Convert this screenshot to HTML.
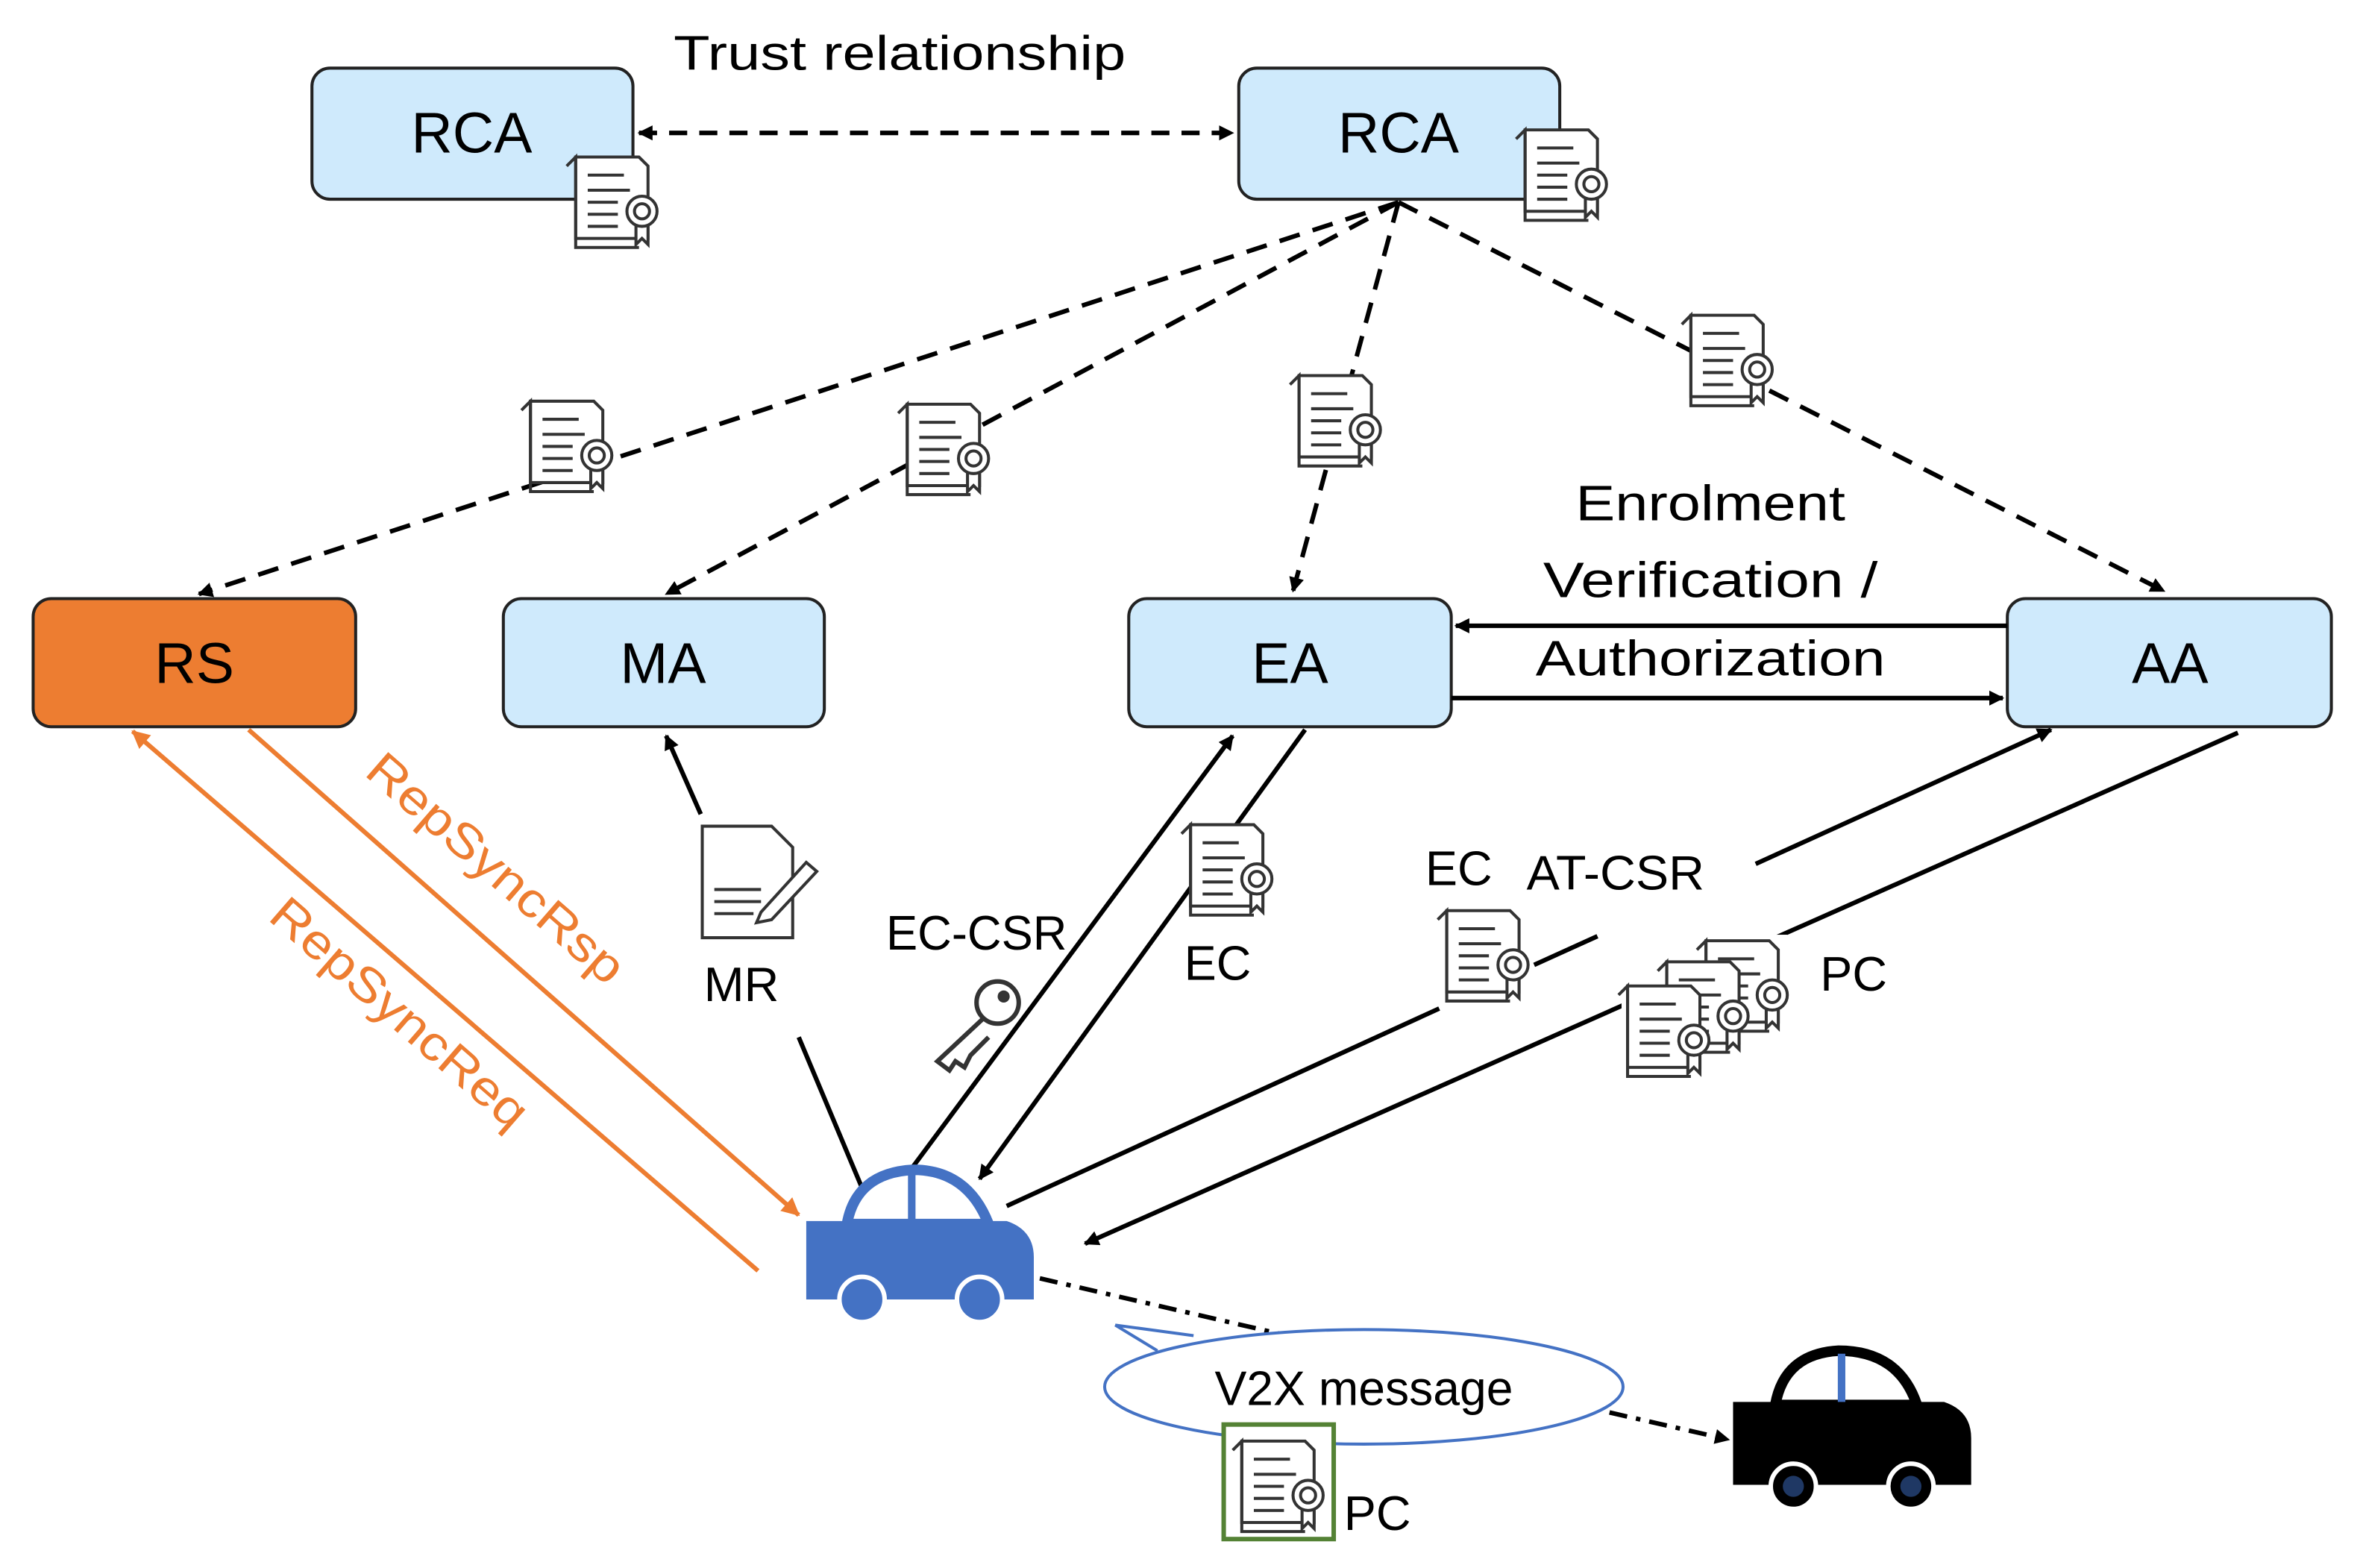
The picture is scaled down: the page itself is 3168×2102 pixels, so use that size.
<!DOCTYPE html>
<html><head><meta charset="utf-8"><style>
html,body{margin:0;padding:0;background:#fff;}
svg{display:block;}
text{font-family:"Liberation Sans","DejaVu Sans",sans-serif;}
</style></head><body>
<svg width="3168" height="2102" viewBox="0 0 1568 1040" xmlns="http://www.w3.org/2000/svg">
<defs>
<marker id="ah" markerWidth="10" markerHeight="10" refX="9" refY="5" orient="auto" markerUnits="userSpaceOnUse"><path d="M0,0 L10,5 L0,10 z" fill="#000"/></marker>
<marker id="ahs" markerWidth="10" markerHeight="10" refX="1" refY="5" orient="auto" markerUnits="userSpaceOnUse"><path d="M10,0 L0,5 L10,10 z" fill="#000"/></marker>
<marker id="ao" markerWidth="12" markerHeight="12" refX="11" refY="6" orient="auto" markerUnits="userSpaceOnUse"><path d="M0,0 L12,6 L0,12 z" fill="#ed7d31"/></marker>
<g id="cert">
<path d="M2,4 L44,4 L50,10 L50,58 L2,58 Z" fill="#fff" stroke="#333" stroke-width="2"/>
<path d="M-4,10 L2,4 L2,64 L44,64" fill="none" stroke="#333" stroke-width="2"/>
<line x1="10" y1="16" x2="34" y2="16" stroke="#333" stroke-width="2"/>
<line x1="10" y1="26" x2="38" y2="26" stroke="#333" stroke-width="2"/>
<line x1="10" y1="34" x2="30" y2="34" stroke="#333" stroke-width="2"/>
<line x1="10" y1="42" x2="30" y2="42" stroke="#333" stroke-width="2"/>
<line x1="10" y1="50" x2="30" y2="50" stroke="#333" stroke-width="2"/>
<path d="M42,46 L42,62 L46,58 L50,62 L50,46" fill="#fff" stroke="#333" stroke-width="2"/>
<circle cx="46" cy="40" r="10" fill="#fff" stroke="#333" stroke-width="2"/>
<circle cx="46" cy="40" r="5" fill="#fff" stroke="#333" stroke-width="2"/>
</g>
</defs>

<rect x="207" y="45" width="213" height="87" rx="12" fill="#cfeafc" stroke="#222" stroke-width="2"/>
<text x="313" y="101" font-size="38" text-anchor="middle">RCA</text>
<rect x="822" y="45" width="213" height="87" rx="12" fill="#cfeafc" stroke="#222" stroke-width="2"/>
<text x="928" y="101" font-size="38" text-anchor="middle">RCA</text>
<text x="597" y="46" font-size="32" text-anchor="middle" textLength="300" lengthAdjust="spacingAndGlyphs">Trust relationship</text>
<line x1="424" y1="88" x2="818" y2="88" stroke="#000" stroke-width="3" stroke-dasharray="12,8" marker-start="url(#ahs)" marker-end="url(#ah)"/>
<use href="#cert" x="380" y="100"/>
<use href="#cert" x="1010" y="82"/>

<g stroke="#000" stroke-width="3" stroke-dasharray="14,9" fill="none">
<line x1="928" y1="134" x2="132" y2="394" marker-end="url(#ah)"/>
<line x1="928" y1="134" x2="442" y2="394" marker-end="url(#ah)"/>
<line x1="928" y1="134" x2="858" y2="392" marker-end="url(#ah)"/>
<line x1="928" y1="134" x2="1436" y2="392" marker-end="url(#ah)"/>
</g>
<use href="#cert" x="350" y="262"/>
<use href="#cert" x="600" y="264"/>
<use href="#cert" x="860" y="245"/>
<use href="#cert" x="1120" y="205"/>

<rect x="22" y="397" width="214" height="85" rx="12" fill="#ed7d31" stroke="#222" stroke-width="2"/>
<text x="129" y="453" font-size="38" text-anchor="middle">RS</text>
<rect x="334" y="397" width="213" height="85" rx="12" fill="#cfeafc" stroke="#222" stroke-width="2"/>
<text x="440" y="453" font-size="38" text-anchor="middle">MA</text>
<rect x="749" y="397" width="214" height="85" rx="12" fill="#cfeafc" stroke="#222" stroke-width="2"/>
<text x="856" y="453" font-size="38" text-anchor="middle">EA</text>
<rect x="1332" y="397" width="215" height="85" rx="12" fill="#cfeafc" stroke="#222" stroke-width="2"/>
<text x="1440" y="453" font-size="38" text-anchor="middle">AA</text>

<line x1="1332" y1="415" x2="966" y2="415" stroke="#000" stroke-width="3" marker-end="url(#ah)"/>
<line x1="963" y1="463" x2="1329" y2="463" stroke="#000" stroke-width="3" marker-end="url(#ah)"/>
<text x="1135" y="345" font-size="33" text-anchor="middle" textLength="179" lengthAdjust="spacingAndGlyphs">Enrolment</text>
<text x="1135" y="396" font-size="33" text-anchor="middle" textLength="222" lengthAdjust="spacingAndGlyphs">Verification /</text>
<text x="1135" y="448" font-size="33" text-anchor="middle" textLength="232" lengthAdjust="spacingAndGlyphs">Authorization</text>

<line x1="165" y1="484" x2="530" y2="806" stroke="#ed7d31" stroke-width="3" marker-end="url(#ao)"/>
<line x1="503" y1="843" x2="88" y2="485" stroke="#ed7d31" stroke-width="3" marker-end="url(#ao)"/>
<text x="0" y="0" font-size="32" fill="#ed7d31" text-anchor="middle" textLength="215" lengthAdjust="spacingAndGlyphs" transform="translate(322,584) rotate(41)">RepSyncRsp</text>
<text x="0" y="0" font-size="32" fill="#ed7d31" text-anchor="middle" textLength="215" lengthAdjust="spacingAndGlyphs" transform="translate(258,680) rotate(41)">RepSyncReq</text>

<line x1="572" y1="788" x2="530" y2="688" stroke="#000" stroke-width="3"/>
<line x1="465" y1="540" x2="442" y2="488" stroke="#000" stroke-width="3" marker-end="url(#ah)"/>
<path d="M466,548 L512,548 L526,562 L526,622 L466,622 Z" fill="#fff" stroke="#333" stroke-width="2"/>
<g stroke="#333" stroke-width="2"><line x1="474" y1="590" x2="505" y2="590"/><line x1="474" y1="598" x2="505" y2="598"/><line x1="474" y1="606" x2="500" y2="606"/></g>
<path d="M505,605 L535,572 L542,578 L512,610 L502,612 Z" fill="#fff" stroke="#333" stroke-width="2"/>
<text x="492" y="664" font-size="32" text-anchor="middle">MR</text>

<line x1="605" y1="775" x2="818" y2="488" stroke="#000" stroke-width="3" marker-end="url(#ah)"/>
<text x="648" y="630" font-size="32" text-anchor="middle" textLength="120" lengthAdjust="spacingAndGlyphs">EC-CSR</text>
<g fill="#fff" stroke="#333" stroke-width="3">
<circle cx="662" cy="665" r="14"/>
<path d="M652,676 L622,704 L630,710 L634,704 L640,708 L644,700 L656,688"/>
</g>
<circle cx="666" cy="661" r="4" fill="#333"/>

<line x1="866" y1="484" x2="650" y2="782" stroke="#000" stroke-width="3" marker-end="url(#ah)"/>
<use href="#cert" x="788" y="543"/>
<text x="808" y="650" font-size="32" text-anchor="middle">EC</text>

<line x1="668" y1="800" x2="955" y2="669" stroke="#000" stroke-width="3"/>
<line x1="1018" y1="640" x2="1060" y2="621" stroke="#000" stroke-width="3"/>
<line x1="1165" y1="573" x2="1361" y2="484" stroke="#000" stroke-width="3" marker-end="url(#ah)"/>
<text x="968" y="587" font-size="32" text-anchor="middle">EC</text>
<text x="1072" y="590" font-size="32" text-anchor="middle" textLength="118" lengthAdjust="spacingAndGlyphs">AT-CSR</text>
<use href="#cert" x="958" y="600"/>

<line x1="1485" y1="486" x2="720" y2="825" stroke="#000" stroke-width="3" marker-end="url(#ah)"/>
<rect x="1076" y="620" width="110" height="95" fill="#fff"/>
<use href="#cert" x="1130" y="620"/>
<use href="#cert" x="1104" y="634"/>
<use href="#cert" x="1078" y="650"/>
<text x="1230" y="657" font-size="32" text-anchor="middle">PC</text>

<path d="M562,812 Q568,778 606,776 Q642,776 656,812 Z" fill="#fff" stroke="#4472c4" stroke-width="7"/>
<line x1="605" y1="778" x2="605" y2="812" stroke="#4472c4" stroke-width="5"/>
<path d="M535,810 L668,810 Q686,816 686,834 L686,862 L535,862 Z" fill="#4472c4"/>
<circle cx="572" cy="862" r="15" fill="#4472c4" stroke="#fff" stroke-width="3"/>
<circle cx="650" cy="862" r="15" fill="#4472c4" stroke="#fff" stroke-width="3"/>

<line x1="690" y1="848" x2="850" y2="885" stroke="#000" stroke-width="3" stroke-dasharray="12,6,3,6"/>
<ellipse cx="905" cy="920" rx="172" ry="38" fill="#fff" stroke="#4472c4" stroke-width="2"/>
<path d="M742,880 L790,886 L770,895 Z" fill="#fff" stroke="none"/>
<path d="M740,879 L792,886 M740,879 L768,896" stroke="#4472c4" stroke-width="2" fill="none"/>
<text x="905" y="932" font-size="32" text-anchor="middle" textLength="198" lengthAdjust="spacingAndGlyphs">V2X message</text>
<line x1="1068" y1="937" x2="1147" y2="955" stroke="#000" stroke-width="3" stroke-dasharray="12,6,3,6" marker-end="url(#ah)"/>
<rect x="812" y="945" width="73" height="76" fill="#fff" stroke="#548235" stroke-width="3"/>
<use href="#cert" x="822" y="952"/>
<text x="914" y="1015" font-size="32" text-anchor="middle">PC</text>

<path d="M1178,932 Q1184,898 1220,896 Q1260,896 1272,932 Z" fill="#fff" stroke="#000" stroke-width="7"/>
<line x1="1222" y1="898" x2="1222" y2="932" stroke="#4472c4" stroke-width="5"/>
<path d="M1150,930 L1290,930 Q1308,936 1308,954 L1308,985 L1150,985 Z" fill="#000"/>
<circle cx="1190" cy="986" r="15" fill="#000" stroke="#fff" stroke-width="3"/>
<circle cx="1268" cy="986" r="15" fill="#000" stroke="#fff" stroke-width="3"/>
<circle cx="1190" cy="986" r="7" fill="#1f3864"/>
<circle cx="1268" cy="986" r="7" fill="#1f3864"/>
</svg>
</body></html>
